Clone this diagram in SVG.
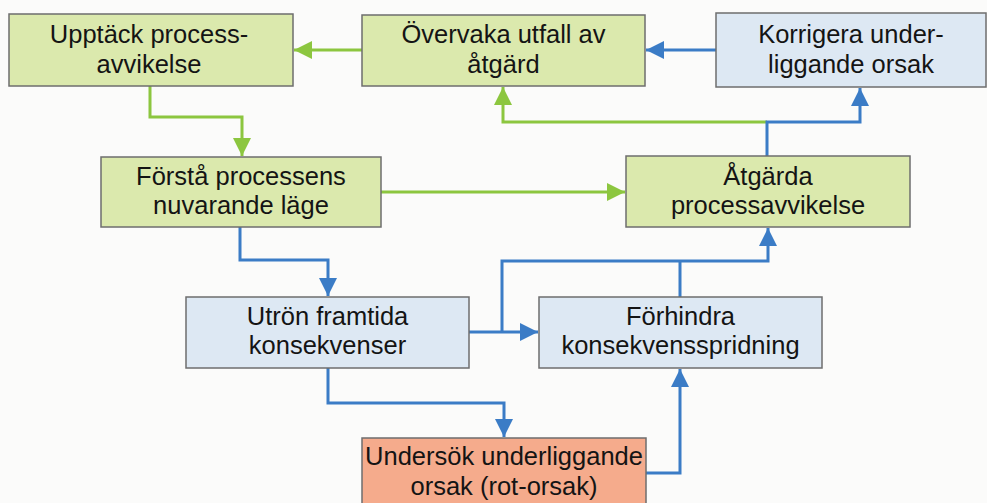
<svg xmlns="http://www.w3.org/2000/svg" width="987" height="503" viewBox="0 0 987 503">
  <style>
    .box { stroke: #6e6e6e; stroke-width: 1.5; }
    .green { fill: #dbe9ad; }
    .blue { fill: #dde8f3; }
    .orange { fill: #f5ab8c; }
    .label { font-family: "Liberation Sans", Arial, sans-serif; font-size: 25.5px; fill: #141414; text-anchor: middle; }
    .lg { fill: none; stroke: #8cc63f; stroke-width: 3; }
    .lb { fill: none; stroke: #3b7cc6; stroke-width: 3; }
  </style>
  <defs>
    <marker id="ag" viewBox="0 0 10 10" refX="10" refY="5" markerUnits="userSpaceOnUse" markerWidth="18" markerHeight="18" orient="auto">
      <path d="M0,0 L10,5 L0,10 z" fill="#8cc63f"/>
    </marker>
    <marker id="ab" viewBox="0 0 10 10" refX="10" refY="5" markerUnits="userSpaceOnUse" markerWidth="18" markerHeight="18" orient="auto">
      <path d="M0,0 L10,5 L0,10 z" fill="#3b7cc6"/>
    </marker>
  </defs>
  <rect width="987" height="503" fill="#fbfbfa"/>

  <g id="connectors">
    <path class="lg" d="M362,50 H294" marker-end="url(#ag)"/>
    <path class="lg" d="M150,86 V117 H242 V156" marker-end="url(#ag)"/>
    <path class="lg" d="M381,192 H625" marker-end="url(#ag)"/>
    <path class="lg" d="M767,122 H503 V87" marker-end="url(#ag)"/>
    <path class="lb" d="M767,156 V122 H860 V88" marker-end="url(#ab)"/>
    <path class="lb" d="M716,50 H646" marker-end="url(#ab)"/>
    <path class="lb" d="M240,227 V260 H328 V296" marker-end="url(#ab)"/>
    <path class="lb" d="M469,332 H538" marker-end="url(#ab)"/>
    <path class="lb" d="M502,332 V261 H768 V228" marker-end="url(#ab)"/>
    <path class="lb" d="M680,297 V261"/>
    <path class="lb" d="M328,368 V403 H504 V437" marker-end="url(#ab)"/>
    <path class="lb" d="M646,473 H680 V369" marker-end="url(#ab)"/>
  </g>

  <g id="upptack">
    <rect class="box green" x="9" y="14" width="284" height="72"/>
    <text class="label" x="149" y="43">Upptäck process-</text>
    <text class="label" x="149" y="73">avvikelse</text>
  </g>
  <g id="overvaka">
    <rect class="box green" x="362" y="15" width="283" height="71"/>
    <text class="label" x="503.5" y="43">Övervaka utfall av</text>
    <text class="label" x="503.5" y="73">åtgärd</text>
  </g>
  <g id="korrigera">
    <rect class="box blue" x="716" y="13" width="270" height="74"/>
    <text class="label" x="851" y="43">Korrigera under-</text>
    <text class="label" x="851" y="73">liggande orsak</text>
  </g>
  <g id="forsta">
    <rect class="box green" x="101" y="157" width="280" height="70"/>
    <text class="label" x="241" y="185">Förstå processens</text>
    <text class="label" x="241" y="214">nuvarande läge</text>
  </g>
  <g id="atgarda">
    <rect class="box green" x="626" y="156" width="284" height="71"/>
    <text class="label" x="768" y="185">Åtgärda</text>
    <text class="label" x="768" y="214">processavvikelse</text>
  </g>
  <g id="utron">
    <rect class="box blue" x="186" y="297" width="283" height="71"/>
    <text class="label" x="327.5" y="325">Utrön framtida</text>
    <text class="label" x="327.5" y="354">konsekvenser</text>
  </g>
  <g id="forhindra">
    <rect class="box blue" x="539" y="297" width="283" height="71"/>
    <text class="label" x="680.5" y="325">Förhindra</text>
    <text class="label" x="680.5" y="354">konsekvensspridning</text>
  </g>
  <g id="undersok">
    <rect class="box orange" x="362" y="438" width="284" height="80"/>
    <text class="label" x="504" y="465">Undersök underliggande</text>
    <text class="label" x="504" y="495">orsak (rot-orsak)</text>
  </g>
</svg>
